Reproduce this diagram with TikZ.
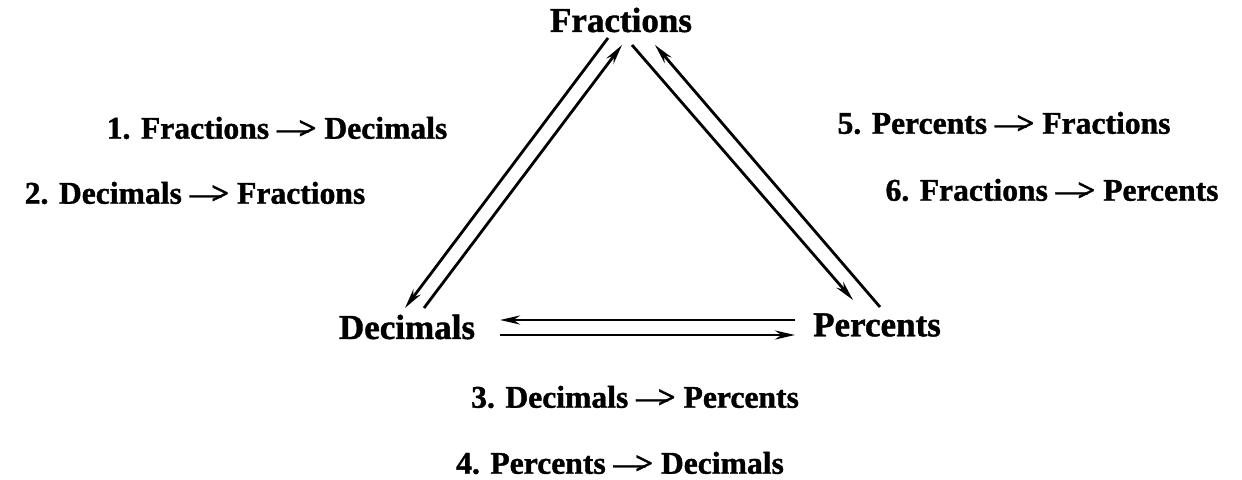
\documentclass[tikz,border=0pt]{standalone}
\usepackage{fontspec}
\setmainfont{Liberation Serif}[BoldFeatures={FakeBold=1.2}]
\usetikzlibrary{arrows.meta}
\tikzset{
  corner/.style={font=\bfseries\fontsize{17.5}{20}\selectfont,inner sep=0pt},
  rule/.style={font=\bfseries\fontsize{15.8}{19}\selectfont,inner sep=0pt},
  conv/.style={line width=1.4pt,-{Stealth[length=10pt,width=4.5pt]}}
}
\newcommand{\thento}{---\kern-0.32em>}
\begin{document}
\begin{tikzpicture}[x=0.5pt,y=-0.5pt]
\useasboundingbox (0,0) rectangle (1242,480);
% the three corners
\node[corner] (frac) at (621,20) {Fractions};
\node[corner] (dec) at (407,327) {Decimals};
\node[corner] (perc) at (877,325) {Percents};
% ends of the arrows
\coordinate (fa) at (608,38);
\coordinate (fb) at (622,45);
\coordinate (fc) at (632,45);
\coordinate (fd) at (655,45);
\coordinate (da) at (405,308);
\coordinate (db) at (424,308);
\coordinate (dc) at (500,320);
\coordinate (dd) at (500,335);
\coordinate (pa) at (853,300);
\coordinate (pb) at (880,307);
\coordinate (pc) at (795,320);
\coordinate (pd) at (795,335);
\draw[conv] (fa) -- (da);
\draw[conv] (db) -- (fb);
\draw[conv] (fc) -- (pa);
\draw[conv] (pb) -- (fd);
\draw[conv] (pc) -- (dc);
\draw[conv] (dd) -- (pd);
% the six rules
\node[rule] (r1) at (277,128) {1. Fractions \thento{} Decimals};
\node[rule] (r2) at (195,193) {2. Decimals \thento{} Fractions};
\node[rule] (r3) at (635,397) {3. Decimals \thento{} Percents};
\node[rule] (r4) at (620,463) {4. Percents \thento{} Decimals};
\node[rule] (r5) at (1004,123) {5. Percents \thento{} Fractions};
\node[rule] (r6) at (1052,190) {6. Fractions \thento{} Percents};
\end{tikzpicture}
\end{document}
